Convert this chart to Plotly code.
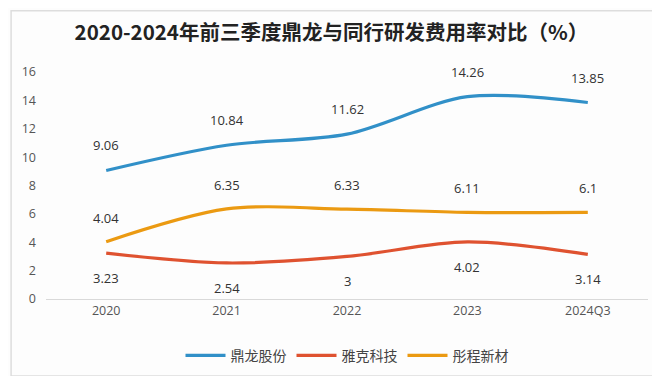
import plotly.graph_objects as go

categories = ["2020", "2021", "2022", "2023", "2024Q3"]
dinglong = [9.06, 10.84, 11.62, 14.26, 13.85]
yake = [3.23, 2.54, 3, 4.02, 3.14]
tongcheng = [4.04, 6.35, 6.33, 6.11, 6.1]
y_ticks = [0, 2, 4, 6, 8, 10, 12, 14, 16]

series = [
    ("鼎龙股份", dinglong, "#3190c8", 25),
    ("雅克科技", yake, "#df5230", -25),
    ("彤程新材", tongcheng, "#eb9a12", 24),
]

fig = go.Figure()
annotations = []
for name, vals, color, shift in series:
    fig.add_trace(go.Scatter(
        x=categories, y=vals, name=name, mode="lines",
        line=dict(color=color, width=3.2, shape="spline", smoothing=0.9),
        hoverinfo="skip",
    ))
    for i, v in enumerate(vals):
        annotations.append(dict(
            x=i, y=v, xref="x", yref="y", text=str(v), showarrow=False, yshift=shift,
            font=dict(size=13, color="#333333", family="Open Sans"),
        ))

fig.update_layout(
    width=660, height=376,
    margin=dict(l=38, r=20, t=64, b=82),
    paper_bgcolor="#fdfdfd", plot_bgcolor="#fdfdfd",
    title=dict(text="<b>2020-2024年前三季度鼎龙与同行研发费用率对比（%）</b>",
               x=0.49, xanchor="center", y=1 - 25 / 376, yanchor="middle",
               font=dict(size=20.5, color="#222222", family="Noto Sans CJK SC")),
    annotations=annotations,
    showlegend=True,
    legend=dict(orientation="h", x=0.5, xanchor="center", y=-0.25, yanchor="middle",
                font=dict(size=14, color="#444444", family="Noto Sans CJK SC"),
                bgcolor="rgba(0,0,0,0)", itemwidth=40),
    xaxis=dict(type="category", categoryorder="array", categoryarray=categories,
               range=[-0.5, len(categories) - 0.5], automargin=False,
               showgrid=False, showline=True, linecolor="#d9d9d9",
               linewidth=1, ticks="", tickfont=dict(size=12.5, color="#555555", family="Open Sans"),
               zeroline=False),
    yaxis=dict(range=[0, 16], tickvals=y_ticks, showgrid=False, showline=False,
               zeroline=False, ticks="", ticklabelstandoff=9, automargin=False,
               tickfont=dict(size=12.5, color="#555555", family="Open Sans")),
    shapes=[dict(type="rect", xref="paper", yref="paper", x0=-0.058, x1=1.025,
                 y0=-0.339, y1=1.27, line=dict(color="#dddddd", width=1.5))],
)

fig.write_html("out.html")
